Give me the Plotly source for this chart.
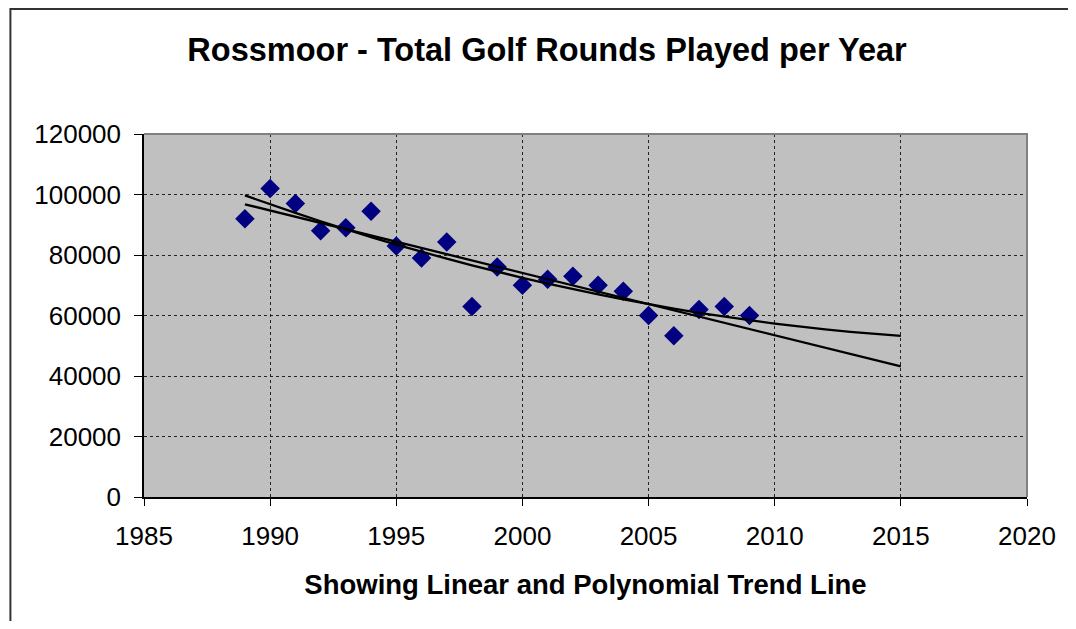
import numpy as np
import plotly.graph_objects as go

# golf rounds per year
years = [1989, 1990, 1991, 1992, 1993, 1994, 1995, 1996, 1997, 1998, 1999,
         2000, 2001, 2002, 2003, 2004, 2005, 2006, 2007, 2008, 2009]
rounds = [92000, 102000, 97000, 88000, 89000, 94500, 83000, 79000, 84300, 63000, 76000,
          70000, 72000, 73000, 70000, 68000, 60000, 53300, 62000, 63000, 60000]

# trend lines run from first data year out to 2015
trend_years = list(range(1989, 2016))

x_ticks = [1985, 1990, 1995, 2000, 2005, 2010, 2015, 2020]
y_ticks = [0, 20000, 40000, 60000, 80000, 100000, 120000]

# page body has an 8px margin, so figure coords = screen coords - 8
OFF = 8
W, H = 1076 - 2 * OFF, 629 - 2 * OFF
PL, PR, PT, PB = 143.5 - OFF, 1032.5 - OFF, 134 - OFF, 497 - OFF  # plot area

lin = np.polyval(np.polyfit(years, rounds, 1), trend_years)
poly = np.polyval(np.polyfit(years, rounds, 2), trend_years)

fig = go.Figure()
fig.add_trace(go.Scatter(x=years, y=rounds, mode='markers', name='Rounds',
                         marker=dict(symbol='diamond', size=15, color='#000080',
                                     line=dict(width=0))))
fig.add_trace(go.Scatter(x=trend_years, y=lin, mode='lines', name='Linear',
                         line=dict(color='black', width=2.3)))
fig.add_trace(go.Scatter(x=trend_years, y=poly, mode='lines', name='Poly',
                         line=dict(color='black', width=2.3)))

font = "Liberation Sans, Arial, sans-serif"

def px(x):
    return (x - PL) / (PR - PL)

def py(y):
    return (PB - y) / (PB - PT)

fig.update_layout(
    width=W, height=H,
    margin=dict(l=PL, r=W - PR, t=PT, b=H - PB, pad=0),
    paper_bgcolor='white', plot_bgcolor='#C0C0C0',
    showlegend=False,
    font=dict(family=font, size=26, color='black'),
    title=dict(text='<b>Rossmoor - Total Golf Rounds Played per Year</b>',
               xref='container', yref='container', x=(547 - OFF) / W, y=1 - (50 - OFF) / H,
               xanchor='center', yanchor='middle',
               font=dict(family=font, size=32.5, color='black')),
    shapes=[
        # grey frame top/right of plot area
        dict(type='path', xref='paper', yref='paper',
             path='M 0,1 L 1,1 L 1,0', line=dict(color='#808080', width=2)),
        # outer chart border, only left and top edges are in view
        dict(type='path', xref='paper', yref='paper',
             path=f'M {px(1)},{py(H + 40)} L {px(1)},{py(1)} L {px(W + 40)},{py(1)}',
             line=dict(color='#333333', width=2)),
    ],
)

fig.update_xaxes(range=[1985, 2020], tickvals=x_ticks, tickformat='d',
                 showline=True, linecolor='black', linewidth=1.5,
                 ticks='outside', ticklen=7, tickcolor='black',
                 showgrid=True, gridcolor='#222222', griddash='dot', gridwidth=1,
                 zeroline=False, ticklabelstandoff=8,
                 title=dict(text='<b>Showing Linear and Polynomial Trend Line</b>',
                            font=dict(size=27.5), standoff=25))
fig.update_yaxes(range=[0, 120000], tickvals=y_ticks, tickformat='d',
                 showline=True, linecolor='black', linewidth=1.5,
                 ticks='outside', ticklen=8, tickcolor='black',
                 showgrid=True, gridcolor='#222222', griddash='dot', gridwidth=1,
                 zeroline=False, ticklabelstandoff=8)

fig.write_html("out.html")
